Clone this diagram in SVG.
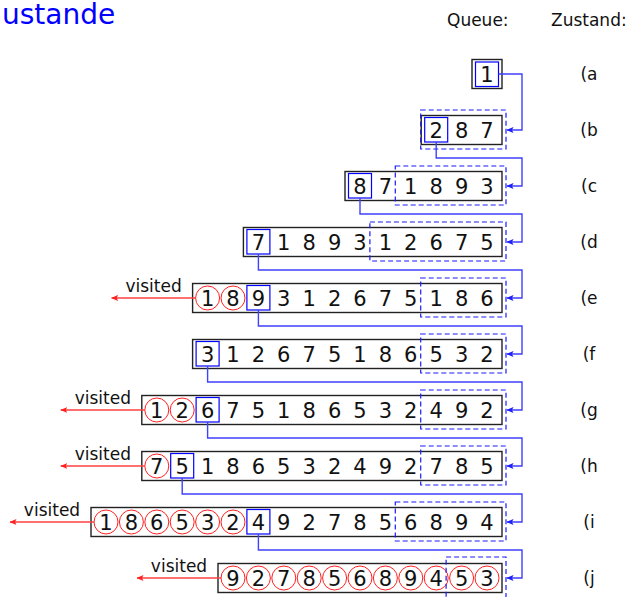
<svg xmlns="http://www.w3.org/2000/svg" width="632" height="597" viewBox="0 0 632 597">
<style>
text{font-family:"DejaVu Sans","Liberation Sans",sans-serif;fill:#111}
.d{font-size:21px;text-anchor:middle}
.l{font-size:17px}
.lab{font-size:17px;text-anchor:middle}
.box{fill:none;stroke:#222;stroke-width:1.4}
.cur{fill:none;stroke:#0000ff;stroke-width:1.2}
.vis{fill:none;stroke:#ff2020;stroke-width:1}
.dash{fill:none;stroke:#1a1aff;stroke-width:1.2;stroke-dasharray:5 3}
.con{fill:none;stroke:#4040ff;stroke-width:1.4;marker-end:url(#ab)}
.red{fill:none;stroke:#ff4040;stroke-width:1.5;marker-end:url(#ar)}
</style>
<defs>
<marker id="ab" markerWidth="7" markerHeight="6" refX="6.5" refY="3" orient="auto" markerUnits="userSpaceOnUse"><path d="M0,0 L7,3 L0,6 L1.5,3 z" fill="#2020ff"/></marker>
<marker id="ar" markerWidth="7" markerHeight="6" refX="6.5" refY="3" orient="auto" markerUnits="userSpaceOnUse"><path d="M0,0 L7,3 L0,6 L1.5,3 z" fill="#ff2020"/></marker>
</defs>
<text x="2" y="24" style="font-size:28px;fill:#0000ff">ustande</text>
<text class="l" x="447" y="26">Queue:</text>
<text class="l" x="551" y="26">Zustand:</text>
<g id="labels">
<text class="lab" x="589" y="80">(a</text>
<text class="lab" x="589" y="136">(b</text>
<text class="lab" x="589" y="192">(c</text>
<text class="lab" x="589" y="248">(d</text>
<text class="lab" x="589" y="304">(e</text>
<text class="lab" x="589" y="360">(f</text>
<text class="lab" x="589" y="416">(g</text>
<text class="lab" x="589" y="472">(h</text>
<text class="lab" x="589" y="528">(i</text>
<text class="lab" x="589" y="584">(j</text>
</g>
<g id="row-a">
<rect class="box" x="472" y="59.5" width="30" height="29"/>
<rect class="cur" x="475.5" y="62" width="23" height="24.5"/>
<text class="d" x="487" y="81.5">1</text>
</g>
<g id="row-b">
<rect class="box" x="421.2" y="115.5" width="80.8" height="29"/>
<rect class="cur" x="424.7" y="117.5" width="23" height="24.5"/>
<text class="d" y="137.5"><tspan x="436.2">2</tspan><tspan x="461.6">8</tspan><tspan x="487">7</tspan></text>
<rect class="dash" x="420.7" y="110" width="85.3" height="39"/>
</g>
<g id="row-c">
<rect class="box" x="345" y="171.5" width="157" height="29"/>
<rect class="cur" x="348.5" y="173.5" width="23" height="24.5"/>
<text class="d" y="193.5"><tspan x="360">8</tspan><tspan x="385.4">7</tspan><tspan x="410.8">1</tspan><tspan x="436.2">8</tspan><tspan x="461.6">9</tspan><tspan x="487">3</tspan></text>
<rect class="dash" x="395.3" y="166" width="110.7" height="39"/>
</g>
<g id="row-d">
<rect class="box" x="243.4" y="227.5" width="258.6" height="29"/>
<rect class="cur" x="246.9" y="229.5" width="23" height="24.5"/>
<text class="d" y="249.5"><tspan x="258.4">7</tspan><tspan x="283.8">1</tspan><tspan x="309.2">8</tspan><tspan x="334.6">9</tspan><tspan x="360">3</tspan><tspan x="385.4">1</tspan><tspan x="410.8">2</tspan><tspan x="436.2">6</tspan><tspan x="461.6">7</tspan><tspan x="487">5</tspan></text>
<rect class="dash" x="369.9" y="222" width="136.1" height="39"/>
</g>
<g id="row-e">
<rect class="box" x="192.6" y="283.5" width="309.4" height="29"/>
<circle class="vis" cx="207.6" cy="298" r="12"/>
<circle class="vis" cx="233" cy="298" r="12"/>
<rect class="cur" x="246.9" y="285.5" width="23" height="24.5"/>
<text class="d" y="305.5"><tspan x="207.6">1</tspan><tspan x="233">8</tspan><tspan x="258.4">9</tspan><tspan x="283.8">3</tspan><tspan x="309.2">1</tspan><tspan x="334.6">2</tspan><tspan x="360">6</tspan><tspan x="385.4">7</tspan><tspan x="410.8">5</tspan><tspan x="436.2">1</tspan><tspan x="461.6">8</tspan><tspan x="487">6</tspan></text>
<rect class="dash" x="420.7" y="278" width="85.3" height="39"/>
<text class="lab" x="153.6" y="292">visited</text>
</g>
<g id="row-f">
<rect class="box" x="192.6" y="339.5" width="309.4" height="29"/>
<rect class="cur" x="196.1" y="341.5" width="23" height="24.5"/>
<text class="d" y="361.5"><tspan x="207.6">3</tspan><tspan x="233">1</tspan><tspan x="258.4">2</tspan><tspan x="283.8">6</tspan><tspan x="309.2">7</tspan><tspan x="334.6">5</tspan><tspan x="360">1</tspan><tspan x="385.4">8</tspan><tspan x="410.8">6</tspan><tspan x="436.2">5</tspan><tspan x="461.6">3</tspan><tspan x="487">2</tspan></text>
<rect class="dash" x="420.7" y="334" width="85.3" height="39"/>
</g>
<g id="row-g">
<rect class="box" x="141.8" y="395.5" width="360.2" height="29"/>
<circle class="vis" cx="156.8" cy="410" r="12"/>
<circle class="vis" cx="182.2" cy="410" r="12"/>
<rect class="cur" x="196.1" y="397.5" width="23" height="24.5"/>
<text class="d" y="417.5"><tspan x="156.8">1</tspan><tspan x="182.2">2</tspan><tspan x="207.6">6</tspan><tspan x="233">7</tspan><tspan x="258.4">5</tspan><tspan x="283.8">1</tspan><tspan x="309.2">8</tspan><tspan x="334.6">6</tspan><tspan x="360">5</tspan><tspan x="385.4">3</tspan><tspan x="410.8">2</tspan><tspan x="436.2">4</tspan><tspan x="461.6">9</tspan><tspan x="487">2</tspan></text>
<rect class="dash" x="420.7" y="390" width="85.3" height="39"/>
<text class="lab" x="102.8" y="404">visited</text>
</g>
<g id="row-h">
<rect class="box" x="141.8" y="451.5" width="360.2" height="29"/>
<circle class="vis" cx="156.8" cy="466" r="12"/>
<rect class="cur" x="170.7" y="453.5" width="23" height="24.5"/>
<text class="d" y="473.5"><tspan x="156.8">7</tspan><tspan x="182.2">5</tspan><tspan x="207.6">1</tspan><tspan x="233">8</tspan><tspan x="258.4">6</tspan><tspan x="283.8">5</tspan><tspan x="309.2">3</tspan><tspan x="334.6">2</tspan><tspan x="360">4</tspan><tspan x="385.4">9</tspan><tspan x="410.8">2</tspan><tspan x="436.2">7</tspan><tspan x="461.6">8</tspan><tspan x="487">5</tspan></text>
<rect class="dash" x="420.7" y="446" width="85.3" height="39"/>
<text class="lab" x="102.8" y="460">visited</text>
</g>
<g id="row-i">
<rect class="box" x="91" y="507.5" width="411" height="29"/>
<circle class="vis" cx="106" cy="522" r="12"/>
<circle class="vis" cx="131.4" cy="522" r="12"/>
<circle class="vis" cx="156.8" cy="522" r="12"/>
<circle class="vis" cx="182.2" cy="522" r="12"/>
<circle class="vis" cx="207.6" cy="522" r="12"/>
<circle class="vis" cx="233" cy="522" r="12"/>
<rect class="cur" x="246.9" y="509.5" width="23" height="24.5"/>
<text class="d" y="529.5"><tspan x="106">1</tspan><tspan x="131.4">8</tspan><tspan x="156.8">6</tspan><tspan x="182.2">5</tspan><tspan x="207.6">3</tspan><tspan x="233">2</tspan><tspan x="258.4">4</tspan><tspan x="283.8">9</tspan><tspan x="309.2">2</tspan><tspan x="334.6">7</tspan><tspan x="360">8</tspan><tspan x="385.4">5</tspan><tspan x="410.8">6</tspan><tspan x="436.2">8</tspan><tspan x="461.6">9</tspan><tspan x="487">4</tspan></text>
<rect class="dash" x="395.3" y="502" width="110.7" height="39"/>
<text class="lab" x="52" y="516">visited</text>
</g>
<g id="row-j">
<rect class="box" x="218" y="563.5" width="284" height="29"/>
<circle class="vis" cx="233" cy="578" r="12"/>
<circle class="vis" cx="258.4" cy="578" r="12"/>
<circle class="vis" cx="283.8" cy="578" r="12"/>
<circle class="vis" cx="309.2" cy="578" r="12"/>
<circle class="vis" cx="334.6" cy="578" r="12"/>
<circle class="vis" cx="360" cy="578" r="12"/>
<circle class="vis" cx="385.4" cy="578" r="12"/>
<circle class="vis" cx="410.8" cy="578" r="12"/>
<circle class="vis" cx="436.2" cy="578" r="12"/>
<circle class="vis" cx="461.6" cy="578" r="12"/>
<circle class="vis" cx="487" cy="578" r="12"/>
<text class="d" y="585.5"><tspan x="233">9</tspan><tspan x="258.4">2</tspan><tspan x="283.8">7</tspan><tspan x="309.2">8</tspan><tspan x="334.6">5</tspan><tspan x="360">6</tspan><tspan x="385.4">8</tspan><tspan x="410.8">9</tspan><tspan x="436.2">4</tspan><tspan x="461.6">5</tspan><tspan x="487">3</tspan></text>
<rect class="dash" x="446.1" y="557" width="59.9" height="60"/>
<text class="lab" x="179" y="572">visited</text>
</g>
<g id="connectors">
<path class="con" d="M498.5,74 H522 V130 H507"/>
<path class="con" d="M436.2,142 V158 H522 V186 H507"/>
<path class="con" d="M360,198 V214 H522 V242 H507"/>
<path class="con" d="M258.4,254 V270 H522 V298 H507"/>
<path class="con" d="M258.4,310 V326 H522 V354 H507"/>
<path class="con" d="M207.6,366 V382 H522 V410 H507"/>
<path class="con" d="M207.6,422 V438 H522 V466 H507"/>
<path class="con" d="M182.2,478 V494 H522 V522 H507"/>
<path class="con" d="M258.4,534 V550 H522 V578 H507"/>
<path class="red" d="M195.6,298 H111.6"/>
<path class="red" d="M144.8,410 H60.8"/>
<path class="red" d="M144.8,466 H60.8"/>
<path class="red" d="M94,522 H10"/>
<path class="red" d="M221,578 H137"/>
</g>
</svg>
